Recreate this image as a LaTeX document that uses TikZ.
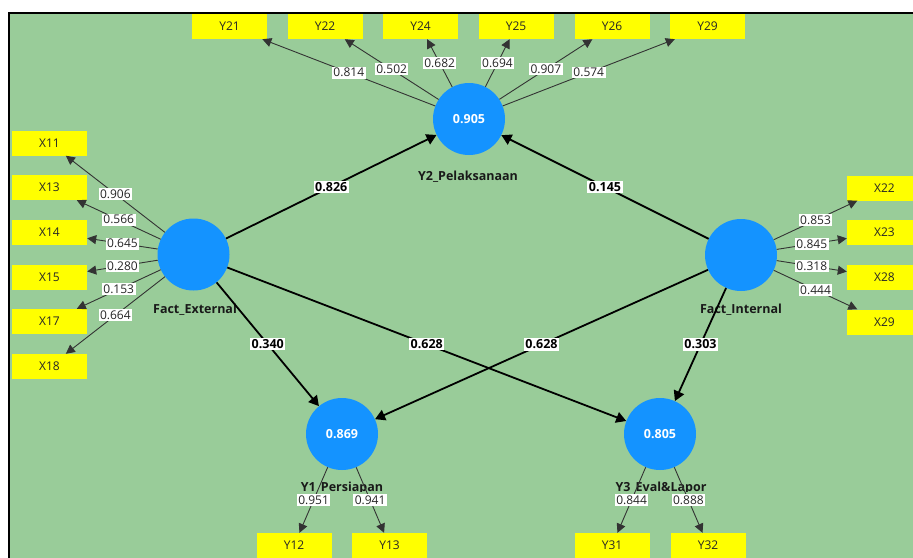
\documentclass[tikz,border=0pt]{standalone}
\usepackage{fontspec}
\setmainfont{Open Sans}
\usetikzlibrary{arrows.meta}
\definecolor{bg}{RGB}{153,204,153}
\definecolor{lvblue}{RGB}{20,147,255}
\definecolor{indy}{RGB}{255,255,0}
\begin{document}
\begin{tikzpicture}[x=1pt,y=-1pt,
  ind/.style={rectangle,fill=indy,minimum width=75pt,minimum height=25pt,inner sep=0pt,text=black!85,font=\fontsize{12}{14}\selectfont},
  lv/.style={circle,fill=lvblue,minimum size=72pt,inner sep=0pt,text=white,font=\fontsize{12.5}{14}\selectfont\bfseries},
  lvname/.style={font=\fontsize{12.5}{14}\selectfont\bfseries,text=black!90,inner sep=0pt},
  ld/.style={draw=black!80,line width=0.9pt,-{Triangle[length=9pt,width=9pt]}},
  sp/.style={draw=black,line width=1.8pt,-{Triangle[length=10pt,width=11pt]}},
  lab/.style={fill=white,inner sep=1.5pt,text=black!85,font=\fontsize{12}{13}\selectfont},
  blab/.style={fill=white,inner sep=1.5pt,text=black,font=\fontsize{12.5}{13}\selectfont\bfseries}]
\useasboundingbox (0,0) rectangle (913,557);
\clip (0,0) rectangle (913,557);
\fill[white] (0,0) rectangle (913,557);
\fill[bg] (9,13) rectangle (925,570);
\draw[line width=2pt] (9,570) -- (9,13) -- (925,13);

% indicators top
\node[ind] (Y21) at (229.5,26.5) {Y21};
\node[ind] (Y22) at (325,26.5) {Y22};
\node[ind] (Y24) at (420.5,26.5) {Y24};
\node[ind] (Y25) at (516,26.5) {Y25};
\node[ind] (Y26) at (612,26.5) {Y26};
\node[ind] (Y29) at (707.5,26.5) {Y29};
% indicators left
\node[ind] (X11) at (49.5,143) {X11};
\node[ind] (X13) at (49.5,187.5) {X13};
\node[ind] (X14) at (49.5,232.5) {X14};
\node[ind] (X15) at (49.5,277.5) {X15};
\node[ind] (X17) at (49.5,321.5) {X17};
\node[ind] (X18) at (49.5,366.5) {X18};
% indicators right
\node[ind] (X22) at (884.5,188) {X22};
\node[ind] (X23) at (884.5,232.5) {X23};
\node[ind] (X28) at (884.5,277.5) {X28};
\node[ind] (X29) at (884.5,322) {X29};
% indicators bottom
\node[ind] (Y12) at (294,545.5) {Y12};
\node[ind] (Y13) at (389.5,545.5) {Y13};
\node[ind] (Y31) at (612,545.5) {Y31};
\node[ind] (Y32) at (708,545.5) {Y32};

% latent variables
\node[lv] (Y2) at (469,119) {0.905};
\node[lv] (FE) at (193.5,254.5) {};
\node[lv] (FI) at (741,255) {};
\node[lv] (Y1) at (342,434) {0.869};
\node[lv] (Y3) at (660,434) {0.805};

% latent names
\node[lvname] (nY2) at (468,177) {Y2\_Pelaksanaan};
\node[lvname] (nFE) at (195,310) {Fact\_External};
\node[lvname] (nFI) at (741,310) {Fact\_Internal};
\begin{scope}
\clip (250,470) rectangle (760,491);
\node[lvname] (nY1) at (342,488) {Y1\_Persiapan};
\node[lvname] (nY3) at (661,488) {Y3\_Eval\&Lapor};
\end{scope}

% outer loadings
\draw[ld] (Y2) -- node[lab]{0.814} (Y21);
\draw[ld] (Y2) -- node[lab]{0.502} (Y22);
\draw[ld] (Y2) -- node[lab]{0.682} (Y24);
\draw[ld] (Y2) -- node[lab]{0.694} (Y25);
\draw[ld] (Y2) -- node[lab]{0.907} (Y26);
\draw[ld] (Y2) -- node[lab]{0.574} (Y29);

\draw[ld] (FE) -- node[lab]{0.906} (X11);
\draw[ld] (FE) -- node[lab]{0.566} (X13);
\draw[ld] (FE) -- node[lab]{0.645} (X14);
\draw[ld] (FE) -- node[lab]{0.280} (X15);
\draw[ld] (FE) -- node[lab]{0.153} (X17);
\draw[ld] (FE) -- node[lab]{0.664} (X18);

\draw[ld] (FI) -- node[lab]{0.853} (X22);
\draw[ld] (FI) -- node[lab]{0.845} (X23);
\draw[ld] (FI) -- node[lab]{0.318} (X28);
\draw[ld] (FI) -- node[lab]{0.444} (X29);

\draw[ld] (Y1) -- node[lab]{0.951} (Y12);
\draw[ld] (Y1) -- node[lab]{0.941} (Y13);
\draw[ld] (Y3) -- node[lab]{0.844} (Y31);
\draw[ld] (Y3) -- node[lab]{0.888} (Y32);

% structural paths
\draw[sp] (FE) -- node[blab]{0.826} (Y2);
\draw[sp] (FI) -- node[blab]{0.145} (Y2);
\draw[sp] (FE) -- node[blab]{0.340} (Y1);
\draw[sp] (FE) -- node[blab]{0.628} (Y3);
\draw[sp] (FI) -- node[blab]{0.628} (Y1);
\draw[sp] (FI) -- node[blab]{0.303} (Y3);
\end{tikzpicture}
\end{document}
